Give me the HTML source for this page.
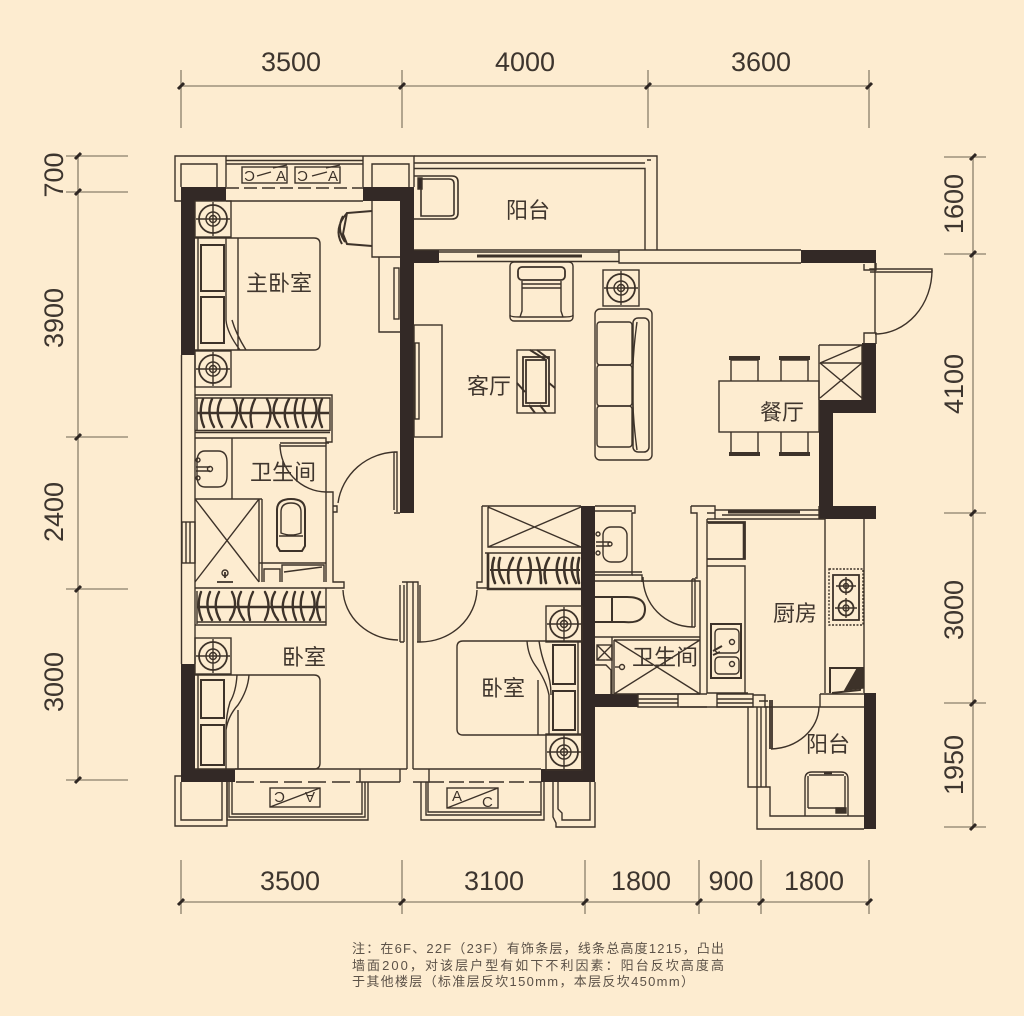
<!DOCTYPE html>
<html lang="zh"><head><meta charset="utf-8"><title>户型图</title>
<style>
html,body{margin:0;padding:0;background:#fdecd0}
svg{display:block}
.l{fill:none;stroke:#3d3229;stroke-width:1.4}
.t{stroke-width:2.6}
.w{fill:#332926;stroke:none}
.d{fill:none;stroke:#8a7f6b;stroke-width:1.3}
.k{stroke:#2f2723;stroke-width:3}
.n{font-family:"Liberation Sans",sans-serif;font-size:27px;fill:#3d352e;text-anchor:middle}
.c{font-family:"Liberation Sans","Noto Sans CJK SC",sans-serif;font-size:22px;fill:#40362e}
.f{font-family:"Liberation Sans","Noto Sans CJK SC",sans-serif;font-size:13px;fill:#5c5248}
.s{font-family:"Liberation Sans",sans-serif;font-size:15px;fill:#3d3229}
</style></head><body>
<svg width="1024" height="1016" viewBox="0 0 1024 1016" xmlns="http://www.w3.org/2000/svg">
<defs>
<g id="ns" class="l"><rect x="-18" y="-18" width="36" height="36"/><circle r="14" style="stroke-width:1.8"/><circle r="7"/><circle r="3.500"/><path d="M-17 0H17M0-17V17"/></g>
<path id="h" class="l" style="stroke-width:2.400;stroke-linecap:round" d="M2 0q-5 14 1 28M11 0q-6 14 2 28M20 0q-7 14 1 28M33 0q7 14 -2 28M42 0q-7 14 3 28M54 0q-7 14 -3 28M66 0q7 14 0 28M76 0q-8 14 3 28M88 0q-8 14 -1 28M96 0q-5 14 1 28M104 0q-5 14 1 28M113 0q6 14 -2 28M121 0q-6 14 0 28"/>
<path id="h2" class="l" style="stroke-width:2.600;stroke-linecap:round" d="M3 0q-4 12 1 25M9 0q-4 12 4 25M22 0q-7 12 -4 25M30 0q-6 12 0 25M38 0q4 12 -1 25M46 0q4 12 4 25M58 0q-7 12 -3 25M68 0q-5 12 1 25M75 0q-4 12 1 25M82 0q-4 12 3 25M88 0q-3 12 0 25"/>
</defs>
<rect width="1024" height="1016" fill="#fdecd0"/>

<!-- dimensions -->
<g class="d">
<path d="M181 86H869M181 70V128M402 70V128M648 70V128M869 70V128"/>
<path d="M181 902H869M181 860V914M402 860V914M585 860V914M699 860V914M761 860V914M869 860V914"/>
<path d="M78 156V780M66 156H128M66 192H128M66 437H128M66 589H128M66 780H128"/>
<path d="M973 157V827M944 157H986M944 254H986M944 513H986M944 703H986M944 827H986"/>
</g>
<g class="k">
<path d="M178 89L184 83M399 89L405 83M645 89L651 83M866 89L872 83"/>
<path d="M178 905L184 899M399 905L405 899M582 905L588 899M696 905L702 899M758 905L764 899M866 905L872 899"/>
<path d="M75 159L81 153M75 195L81 189M75 440L81 434M75 592L81 586M75 783L81 777"/>
<path d="M970 160L976 154M970 257L976 251M970 516L976 510M970 706L976 700M970 830L976 824"/>
</g>
<g class="n">
<text x="291" y="71">3500</text><text x="525" y="71">4000</text><text x="761" y="71">3600</text>
<text x="290" y="890">3500</text><text x="494" y="890">3100</text><text x="641" y="890">1800</text><text x="731" y="890">900</text><text x="814" y="890">1800</text>
<text transform="translate(63 175) rotate(-90)">700</text>
<text transform="translate(63 318) rotate(-90)">3900</text>
<text transform="translate(63 512) rotate(-90)">2400</text>
<text transform="translate(63 682) rotate(-90)">3000</text>
<text transform="translate(963 204) rotate(-90)">1600</text>
<text transform="translate(963 384) rotate(-90)">4100</text>
<text transform="translate(963 610) rotate(-90)">3000</text>
<text transform="translate(963 765) rotate(-90)">1950</text>
</g>

<!-- solid walls -->
<g class="w">
<path d="M181 187H226V201H195V355H181Z"/>
<path d="M363 187H414V250H439V263H414V513H400V201H363Z"/>
<path d="M181 664H195V769H235V782H181Z"/>
<path d="M581 506H595V694H638V707H595V782H541V769H581Z"/>
<path d="M801 250H876V263H801Z"/>
<path d="M862 343H876V413H833V506H876V519H819V400H862Z"/>
<rect x="864" y="693" width="12" height="136"/>
</g>

<g class="l">
<!-- top-left corner & top window -->
<path d="M181 201H175V156H226V187M181 187V164H217V187"/>
<path d="M226 156H363M226 160.500H363M226 164H363M226 201H363M363 156V187"/>
<path d="M226 188H363" stroke-dasharray="13 5"/>
<rect x="242" y="167" width="45" height="16"/><rect x="295" y="167" width="45" height="16"/>
<path d="M257 176L271 172M312 176L327 172M273 168L287 165M326 168L340 165"/>
<!-- corner right of top window -->
<path d="M363 156H414V187M372 187V164H409V187"/>
<!-- master bed -->
<use href="#ns" x="213" y="219"/><use href="#ns" x="213" y="369"/>
<path d="M195 238H314Q320 238 320 244V344Q320 350 314 350H195"/>
<path d="M198 238V350M238 238V350M226 238V320Q227 333 240 350M232 320Q236 334 246 350"/>
<path style="stroke-width:2" d="M201 245H224V291H201ZM201 297H224V343H201Z"/>
<!-- desk & chair -->
<path d="M372 201V257H400M379 257V332H400"/>
<rect x="394" y="268" width="5" height="51"/>
<path style="stroke-width:2" d="M372 211L347 213L343 234L347 244L372 246M347 213Q333 229 342 244M343 216Q336 229 345 242"/>
<!-- left outer wall -->
<path d="M181.500 355V664M195 355V664"/>
<rect x="182" y="522" width="13" height="41"/><path d="M186 522V563M190 522V563"/>
<!-- wardrobe 1 -->
<path d="M195 395H332V442H326M195 398H330V431M197 398V431M195 430.500H330M195 432.500H330"/>
<path style="stroke-width:2.400" d="M197 413H329"/>
<use href="#h" x="201" y="399"/>
<!-- bath 1 -->
<path d="M195 438H326V492H333V582H344V588H195M326 492V582"/>
<path d="M232 438V499H195M259 499V582M262 499V582M232 499H262"/>
<path d="M195 499L259 582M259 499L195 582"/>
<path style="stroke-width:1.800" d="M217 582H233M225 578V572"/><circle cx="225" cy="573" r="3"/>
<path d="M280 443H329M280 446H326"/>
<path d="M280 444A47 48 0 0 0 326 492"/>
<path d="M259 563H326M264 582V569H280V582M282 582V565H324V582M284 572L322 567"/>
<path d="M205 451H218Q227 451 227 462V476Q227 487 218 487H205Q197 487 197 476V462Q197 451 205 451Z"/>
<circle cx="198" cy="460" r="2"/><circle cx="198" cy="478" r="2"/><circle cx="210" cy="469" r="2.500"/><path d="M196 467H210M196 471H210"/>
<path style="stroke-width:2" d="M277 510Q277 499 291 499Q305 499 305 510V546L302 551H280L277 546Z"/>
<path d="M281 512Q281 503 291 503Q301 503 301 512V533Q291 537 281 533ZM279 536H303"/>
<!-- main door & jambs -->
<path d="M338 503A60 59 0 0 1 397 452M394 452H397V512M394 452V510M333 506H337V512H333M400 513H394"/>
<path d="M343 590A56 52 0 0 0 398 640"/>
<path d="M400 585V642M404 585V642M400 642H404M402 582H418V585M407 582V769M413 582V769M418 585V642M420 585V642M417 642H420"/>
<path d="M420 642A57 54 0 0 0 477 590"/>
<!-- wardrobe 2 -->
<path d="M195 625H326V588M197 591V624M197 622H326"/>
<path style="stroke-width:2.400" d="M197 607H325"/>
<use href="#h" x="199" y="592"/>
<!-- bedroom SW -->
<use href="#ns" x="213" y="656"/>
<path d="M195 675H314Q320 675 320 681V763Q320 769 314 769H195M198 675V769M238 710V769"/>
<path d="M226 769V730Q228 716 238 705Q248 690 249 675M237 675Q236 692 230 702Q226 715 226 730"/>
<path style="stroke-width:2" d="M201 680H224V718H201ZM201 725H224V765H201Z"/>
<!-- bottom window 1 -->
<path d="M235 769H407M360 769V782H400M413 769H541M413 782H429V769M400 782V769"/>
<path d="M236 782H360" stroke-dasharray="18 6"/>
<path d="M232 782V814H362V782M229 782V817H365V782M227 782V820H368V782"/>
<rect x="270" y="788" width="50" height="19"/><path d="M270 807L320 788"/>
<path d="M181 776H175V826H227V782M181 782V820H222V782"/>
<!-- bottom window 2 -->
<path d="M429 782H541" stroke-dasharray="15 5"/>
<path d="M421 782V820H544V782M426 782V815H541V782M428 782V812H541"/>
<rect x="447" y="788" width="51" height="20"/><path d="M447 808L498 788"/>
<path d="M553 782V817L556 823V827H595V782M558 782V809L562 813V820H590V782"/>
<!-- bedroom SE -->
<use href="#ns" x="564" y="624"/><use href="#ns" x="564" y="752"/>
<path d="M581 641H463Q457 641 457 647V729Q457 735 463 735H581M578 641V735M538 735V680"/>
<path d="M527 641Q528 655 535 665Q546 680 549 695V735M539 641Q541 655 546 668Q551 680 551 695"/>
<path style="stroke-width:2" d="M553 645H575V684H553ZM553 691H575V730H553Z"/>
<!-- closet -->
<path d="M482 506H581M482 506V582H477V588H487M488 507V547H581M488 507L581 547M581 507L488 547M485 553H581"/>
<path style="stroke-width:2.600" d="M488 553V589H581"/>
<path style="stroke-width:2" d="M490 570H580"/>
<use href="#h2" x="491" y="558"/>
<!-- bath 2 -->
<path d="M595 506H635V513H632V575H595M595 511H632"/>
<path d="M632 575H642V582M595 581H700V694M595 572H642"/>
<rect x="603" y="527" width="24" height="35" rx="8"/>
<circle cx="598" cy="534" r="2"/><circle cx="598" cy="553" r="2"/><circle cx="610" cy="544" r="2"/><path d="M596 542H610M596 546H610"/>
<path d="M643 577A50 50 0 0 0 692 627M692 579V627M695 579V627M692 627H695M692 579H695"/>
<path style="stroke-width:2" d="M595 622H624Q645 624 645 609Q645 597 627 597H595M612 597V622"/>
<path d="M595 637H700M612 637V694M614 640V694H700M614 640H700M614 640L700 694M700 640L614 694"/>
<rect x="597" y="645" width="15" height="15"/><path d="M597 645L612 660M612 645L597 660M595 665H606L611 670V694"/>
<circle cx="622" cy="667" r="2.500"/><path d="M615 667H620"/>
<path d="M638 694H678V707H638ZM638 699H678M638 703H678M678 707H707M707 694H678"/>
<!-- living -->
<path d="M439 252H619M439 261.500H619M619 250V263H801M619 250H801M414 250H645"/>
<path style="stroke-width:3" d="M477 256H582"/>
<rect x="510" y="262" width="63" height="59" rx="4"/>
<rect style="stroke-width:1.800" x="518" y="267" width="47" height="13" rx="4"/>
<path d="M522 281V311L520 317H563L561 311V281M522 284H561M522 288H561M510 315Q510 317 520 317M573 315Q573 317 563 317"/>
<use href="#ns" x="621" y="288"/>
<rect x="595" y="309" width="57" height="151" rx="5"/>
<rect x="597" y="322" width="35" height="43" rx="3"/><rect x="597" y="365" width="35" height="41" rx="3"/><rect x="597" y="406" width="35" height="41" rx="3"/>
<rect style="stroke-width:1.500" x="633" y="318" width="16" height="134" rx="5"/>
<path d="M637 322Q628 385 637 450"/>
<rect x="517" y="350" width="38" height="63"/>
<rect style="stroke-width:1.800" x="523" y="357" width="26" height="49"/><rect style="stroke-width:1.800" x="526" y="360" width="20" height="43"/>
<path style="stroke-width:2" d="M530 350L546 360M537 350L549 359M517 383L525 392M549 383L555 388M529 405L535 413M540 405L546 413"/>
<rect x="414" y="325" width="28" height="112"/>
<rect x="415" y="343" width="4" height="76"/>
<!-- balcony N -->
<path d="M414 156H657V250M414 163H645M414 168.500H645V250M647 160H651"/>
<path style="stroke-width:1.600" d="M414 176H452Q458 176 458 182V213Q458 219 452 219H414M421 179H449Q454 179 454 184V214Q454 216 449 216H421V179"/>
<path d="M418 178H422V189H418Z" fill="#332926"/>
<!-- dining -->
<rect x="719" y="381" width="100" height="51"/>
<path d="M731 381V360M758 381V360M731 360H758M781 381V360M808 381V360M781 360H808M731 432V453M758 432V453M781 432V453M808 432V453"/>
<path style="stroke-width:4" d="M729 358H760M779 358H810M729 454H760M779 454H810"/>
<!-- east door & shaft -->
<path d="M875 263V333M876 263V270H864V264M864 270H870V269H932V272H870"/>
<path d="M932 270A57 64 0 0 1 875 334M864 344V333H876V344"/>
<path d="M819 345H862V400M819 345V400M820 363H862M820 363L862 345M820 363L862 398M862 363L820 398"/>
<!-- kitchen top -->
<path d="M691 506H715V519M691 506V513H697V573M707 519V693H748M707 519H825M715 510H819M722 515H819M707 513H715"/>
<path style="stroke-width:3" d="M728 512H800"/>
<path d="M697 573V578H695M825 519V693M864 519V693M819 506V519"/>
<!-- fridge -->
<path style="stroke-width:1.800" d="M707 522H745V559H707M708 523H744"/><path style="stroke-width:2.600" d="M744 522V559"/>
<path d="M707 566H745V693"/>
<!-- sink -->
<rect style="stroke-width:2" x="711" y="624" width="30" height="54"/>
<rect x="715" y="629" width="24" height="24" rx="4"/><rect x="715" y="657" width="24" height="17" rx="4"/>
<circle cx="732" cy="642" r="2.500"/><circle cx="732" cy="664" r="2.500"/>
<path style="stroke-width:2" d="M713 651L722 646M713 655L720 652"/>
<!-- stove -->
<rect x="829" y="569" width="34" height="56" stroke-dasharray="2 1.500"/>
<rect style="stroke-width:1.800" x="833" y="575" width="26" height="45"/>
<circle style="stroke-width:1.800" cx="846" cy="586" r="6.500"/><circle cx="846" cy="586" r="2.500"/><path d="M836 586H856M846 577V595"/>
<circle style="stroke-width:1.800" cx="846" cy="608" r="7.500"/><circle cx="846" cy="608" r="3"/><path d="M835 608H857M846 598V618"/>
<path style="stroke-width:2" d="M830 693V668H863L860 690L832 693"/>
<path d="M857 669H863V688L845 690Z" fill="#3d3229"/>
<!-- balcony SE -->
<path d="M717 694H753V707H717ZM717 699H753M717 703H753M753 695H765V707H768M759 701H768"/>
<path d="M680 707H864M820 694H864M820 694V707"/>
<path d="M819 707A50 43 0 0 1 771 749"/>
<path style="stroke-width:1.800" d="M770 700V749M772 700V749"/>
<path d="M748 707V787H770V816H864M757 707V787M761 707V787M766 707V787M757 787V829H864"/>
<path d="M805 816V779Q805 772 812 772H841Q848 772 848 779V816M808 808H845M809 775H844"/>
<path d="M808 776V808M845 776V808"/>
<path style="stroke-width:2.500" d="M824 773H832"/>
<path d="M836 808H846V813H836Z" fill="#3d3229"/>
</g>

<!-- small window letters -->
<g class="s">
<text transform="translate(255 181) scale(-1 1)">C</text><text x="276" y="181">A</text>
<text transform="translate(308 181) scale(-1 1)">C</text><text x="328" y="181">A</text>
<text transform="translate(315 792) rotate(180)">A</text><text transform="translate(285 792) rotate(180)">C</text>
<text x="452" y="801">A</text><text x="482" y="807">C</text>
</g>

<!-- room labels -->
<g class="c">
<text x="246" y="291">主卧室</text>
<text x="506" y="218">阳台</text>
<text x="467" y="394">客厅</text>
<text x="760" y="420">餐厅</text>
<text x="250" y="480">卫生间</text>
<text x="282" y="665">卧室</text>
<text x="481" y="696">卧室</text>
<text x="632" y="665">卫生间</text>
<text x="773" y="621">厨房</text>
<text x="806" y="752">阳台</text>
</g>

<!-- note -->
<g class="f">
<text x="352" y="953" textLength="372">注：在6F、22F（23F）有饰条层，线条总高度1215，凸出</text>
<text x="352" y="970" textLength="372">墙面200，对该层户型有如下不利因素：阳台反坎高度高</text>
<text x="352" y="986" textLength="342">于其他楼层（标准层反坎150mm，本层反坎450mm）</text>
</g>
</svg>
</body></html>
